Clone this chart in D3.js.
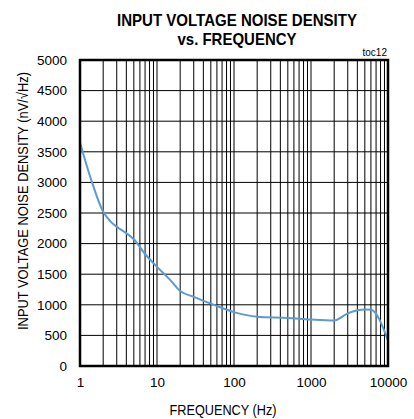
<!DOCTYPE html>
<html>
<head>
<meta charset="utf-8">
<script src="https://cdn.jsdelivr.net/npm/d3@7"></script>
<style>
  body { margin: 0; background: #fff; }
  text { font-family: "Liberation Sans", Arial, sans-serif; fill: #000; }
</style>
</head>
<body>
<div id="chart"></div>
<script>
// data
var freq = [1, 1.4, 2, 2.5, 3, 4, 5, 7, 10, 15, 20, 30, 50, 100, 200, 500, 1000, 2000, 3000, 4000, 5000, 6000, 10000];
var noise = [3650, 3040, 2520, 2360, 2276, 2170, 2070, 1830, 1620, 1400, 1225, 1130, 1020, 880, 805, 785, 760, 745, 860, 910, 925, 920, 420];
var xTicks = [1, 10, 100, 1000, 10000];
var yTicks = [0, 500, 1000, 1500, 2000, 2500, 3000, 3500, 4000, 4500, 5000];

var W = 414, H = 419;
var margin = {top: 60, right: 26, bottom: 53, left: 80},
    width = W - margin.left - margin.right,
    height = H - margin.top - margin.bottom;

var svg = d3.select("#chart")
  .append("svg")
    .attr("width", W)
    .attr("height", H);

var g = svg.append("g")
    .attr("transform", `translate(${margin.left},${margin.top})`);

var x = d3.scaleLog()
  .domain([1, 10000])
  .range([0, width]);

var y = d3.scaleLinear()
  .domain([0, 5000])
  .range([height, 0]);

// vertical grid: 1..9 in every decade
var gridX = [];
for (var d = 1; d < 10000; d *= 10) {
  for (var k = 2; k <= 10; k++) gridX.push(d * k);
}
g.selectAll(".vgrid")
  .data(gridX)
  .join("line")
    .attr("x1", d => x(d))
    .attr("x2", d => x(d))
    .attr("y1", 0)
    .attr("y2", height)
    .attr("stroke", "#000")
    .attr("stroke-width", 1);

g.selectAll(".hgrid")
  .data(yTicks)
  .join("line")
    .attr("x1", 0)
    .attr("x2", width)
    .attr("y1", d => y(d))
    .attr("y2", d => y(d))
    .attr("stroke", "#000")
    .attr("stroke-width", 1);

// y axis labels
var yAxis = g.append("g")
  .call(d3.axisLeft(y).tickValues(yTicks).tickSize(0).tickPadding(13).tickFormat(d3.format("d")));
yAxis.select(".domain").remove();
yAxis.selectAll("text")
  .style("font-family", "'Liberation Sans', Arial, sans-serif")
  .style("font-size", "13.5px");

// x axis labels
var xAxis = g.append("g")
  .attr("transform", `translate(0,${height})`)
  .call(d3.axisBottom(x).tickValues(xTicks).tickSize(0).tickPadding(11).tickFormat(d3.format("d")));
xAxis.select(".domain").remove();
xAxis.selectAll("text")
  .style("font-family", "'Liberation Sans', Arial, sans-serif")
  .style("font-size", "13.5px");

// curve
var line = d3.line()
  .x((d, i) => x(freq[i]))
  .y(d => y(d))
  .curve(d3.curveMonotoneX);

g.append("path")
  .datum(noise)
  .attr("fill", "none")
  .attr("stroke", "#5b9bd5")
  .attr("stroke-width", 2)
  .attr("d", line);

// frame
g.append("rect")
  .attr("x", 0)
  .attr("y", 0)
  .attr("width", width)
  .attr("height", height)
  .attr("fill", "none")
  .attr("stroke", "#000")
  .attr("stroke-width", 2.5);

// titles
svg.append("text")
  .attr("x", 237).attr("y", 26)
  .attr("text-anchor", "middle")
  .attr("font-weight", "bold")
  .attr("font-size", "17px")
  .attr("textLength", 240)
  .attr("lengthAdjust", "spacingAndGlyphs")
  .text("INPUT VOLTAGE NOISE DENSITY");

svg.append("text")
  .attr("x", 237).attr("y", 45)
  .attr("text-anchor", "middle")
  .attr("font-weight", "bold")
  .attr("font-size", "17px")
  .attr("textLength", 119)
  .attr("lengthAdjust", "spacingAndGlyphs")
  .text("vs. FREQUENCY");

svg.append("text")
  .attr("x", 387).attr("y", 56)
  .attr("text-anchor", "end")
  .attr("font-size", "10px")
  .text("toc12");

svg.append("text")
  .attr("x", 223).attr("y", 415)
  .attr("text-anchor", "middle")
  .attr("font-size", "15px")
  .attr("textLength", 107)
  .attr("lengthAdjust", "spacingAndGlyphs")
  .text("FREQUENCY (Hz)");

svg.append("text")
  .attr("transform", "translate(28,201) rotate(-90)")
  .attr("text-anchor", "middle")
  .attr("font-size", "15px")
  .attr("textLength", 258)
  .attr("lengthAdjust", "spacingAndGlyphs")
  .text("INPUT VOLTAGE NOISE DENSITY (nV/\u221AHz)");
</script>
</body>
</html>
